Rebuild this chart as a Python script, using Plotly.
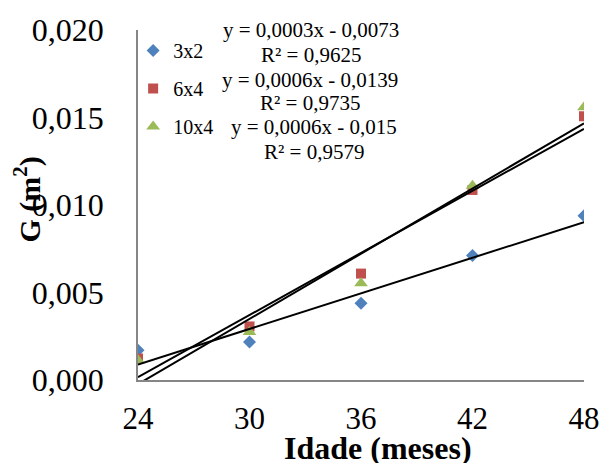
import numpy as np
import plotly.graph_objects as go

# ---- data ----
idade = [24, 30, 36, 42, 48]
g_3x2 = [0.00170, 0.00217, 0.00438, 0.00712, 0.00939]
g_6x4 = [0.00123, 0.00306, 0.00608, 0.01086, 0.01507]
g_10x4 = [0.00113, 0.00274, 0.00553, 0.01110, 0.01558]
series_names = ["3x2", "6x4", "10x4"]
eq_texts = ["y = 0,0003x - 0,0073", "y = 0,0006x - 0,0139", "y = 0,0006x - 0,015"]
r2_texts = ["R² = 0,9625", "R² = 0,9735", "R² = 0,9579"]
y_ticks = [0.0, 0.005, 0.010, 0.015, 0.020]
x_ticks = [24, 30, 36, 42, 48]

FONT = "Liberation Serif"
colors = ["#4F81BD", "#C0504D", "#9BBB59"]
symbols = ["diamond", "square", "triangle-up"]
sizes = [10, 10, 12]

fig = go.Figure()
all_series = [g_3x2, g_6x4, g_10x4]
for i, (name, ys) in enumerate(zip(series_names, all_series)):
    fig.add_trace(go.Scatter(
        x=idade, y=ys, mode="markers", name=name, legendgroup=name,
        marker=dict(symbol=symbols[i], color=colors[i], size=sizes[i], line=dict(width=0)),
    ))

# linear trend lines computed from the data
for name, ys in zip(series_names, all_series):
    a, b = np.polyfit(idade, ys, 1)
    xs = [idade[0], idade[-1]]
    fig.add_trace(go.Scatter(
        x=xs, y=[a * v + b for v in xs], mode="lines", showlegend=False,
        line=dict(color="black", width=2), hoverinfo="skip",
    ))

L, R, T, B = 138, 16, 27, 83
W, H = 612, 463
pw, ph = W - L - R, H - T - B

def px_x(p):
    return (p - L) / pw

def px_y(p):
    return (H - B - p) / ph

annotations = []
eq_y = [27, 77, 125]
r2_y = [52, 101, 150]
eq_x = [316, 315, 319]
for i in range(3):
    annotations.append(dict(x=px_x(eq_x[i]), y=px_y(eq_y[i]), xref="paper", yref="paper",
                            text=eq_texts[i], showarrow=False, xanchor="center", yanchor="middle",
                            font=dict(family=FONT, size=21, color="black")))
    annotations.append(dict(x=px_x(eq_x[i]), y=px_y(r2_y[i]), xref="paper", yref="paper",
                            text=r2_texts[i], showarrow=False, xanchor="center", yanchor="middle",
                            font=dict(family=FONT, size=21, color="black")))

annotations.append(dict(x=px_x(384), y=px_y(449), xref="paper", yref="paper",
                        text="<b>Idade (meses)</b>", showarrow=False, xanchor="center", yanchor="middle",
                        font=dict(family=FONT, size=32, color="black")))
annotations.append(dict(x=px_x(25), y=px_y(198), xref="paper", yref="paper",
                        text="<b>G (m<sup>2</sup>)</b>", showarrow=False, textangle=-90,
                        xanchor="center", yanchor="middle",
                        font=dict(family=FONT, size=30, color="black")))

fig.update_layout(
    width=W, height=H,
    margin=dict(l=L, r=R, t=T, b=B),
    paper_bgcolor="white", plot_bgcolor="white",
    separators=",.",
    font=dict(family=FONT, color="black"),
    showlegend=True,
    legend=dict(x=px_x(133), y=px_y(28), xanchor="left", yanchor="top",
                font=dict(family=FONT, size=20, color="black"),
                bgcolor="rgba(0,0,0,0)", tracegroupgap=9, traceorder="grouped",
                itemwidth=30),
    annotations=annotations,
    xaxis=dict(range=[24, 48], tickvals=x_ticks, showgrid=False, zeroline=False,
               showline=True, linecolor="#868686", linewidth=1.5, ticks="",
               tickfont=dict(family=FONT, size=31, color="black"),
               ticklabelstandoff=10),
    yaxis=dict(range=[0, 0.020], tickvals=y_ticks, tickformat=".3f", showgrid=False,
               zeroline=False, showline=True, linecolor="#868686", linewidth=1.5, ticks="",
               tickfont=dict(family=FONT, size=32, color="black"),
               ticklabelstandoff=26),
)

fig.write_html("out.html")
